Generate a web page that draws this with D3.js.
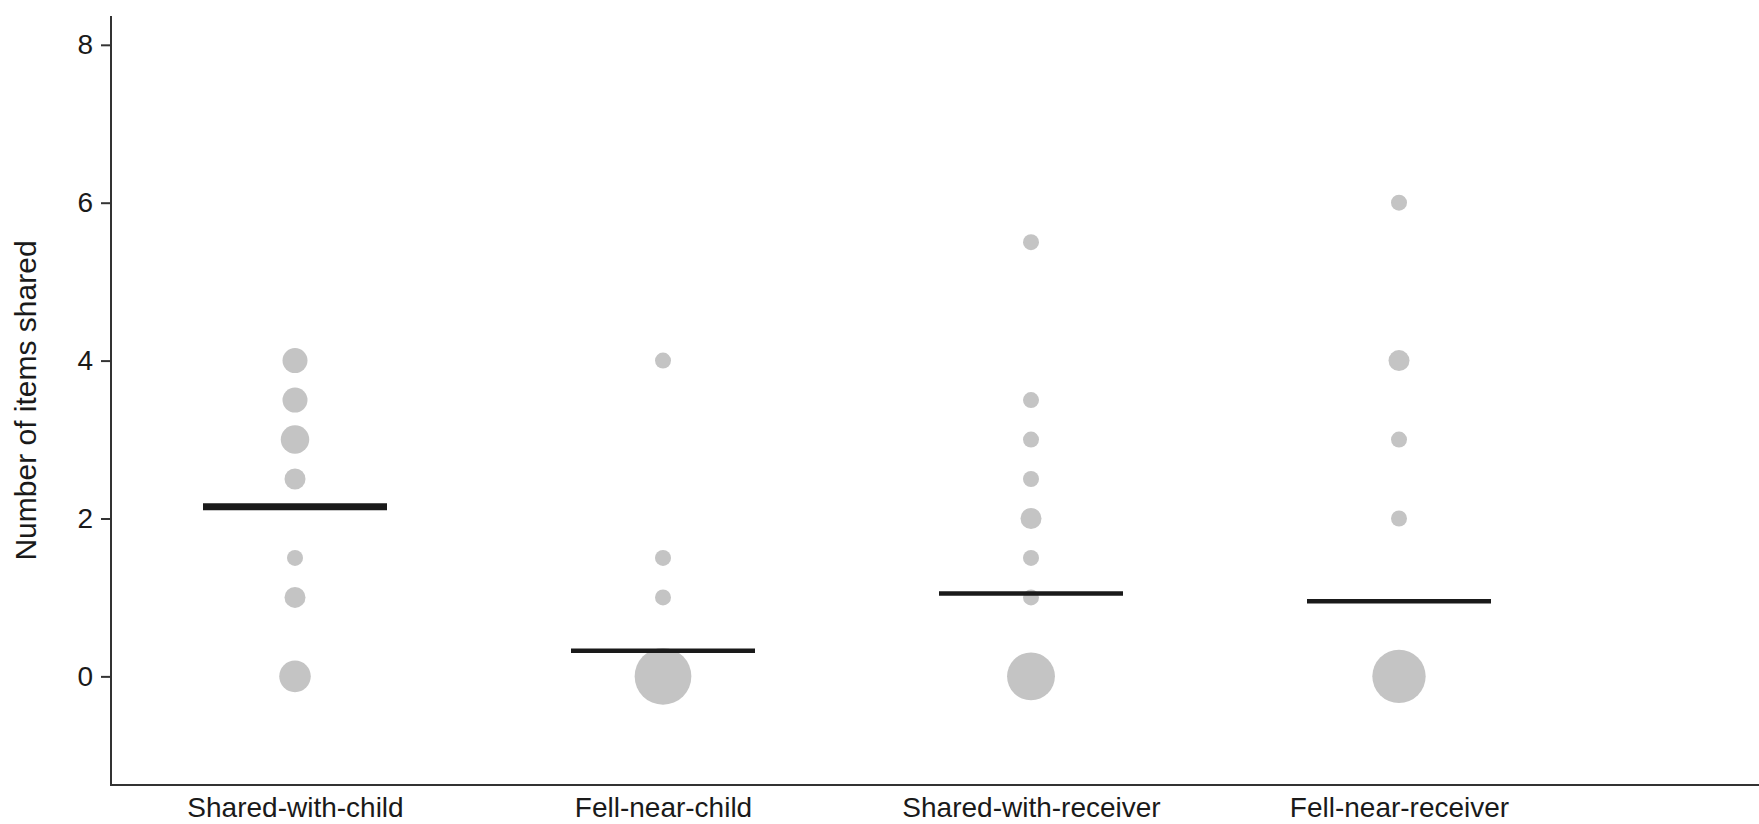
<!DOCTYPE html>
<html>
<head>
<meta charset="utf-8">
<script src="https://cdn.jsdelivr.net/npm/d3@7"></script>
<style>
  html, body { margin: 0; padding: 0; background: #ffffff; }
  svg { display: block; }
  text { font-family: "Liberation Sans", Arial, Helvetica, sans-serif; fill: #1a1a1a; }
</style>
</head>
<body>
<svg id="chart" width="1759" height="824"></svg>
<script>
// ---- data ----
const categories = ["Shared-with-child", "Fell-near-child", "Shared-with-receiver", "Fell-near-receiver"];

// distinct values per condition and how many children gave each value
const sharedWithChildValues = [4, 3.5, 3, 2.5, 1.5, 1, 0];
const sharedWithChildCounts = [3, 3, 4, 2, 1, 2, 5];

const fellNearChildValues = [4, 1.5, 1, 0];
const fellNearChildCounts = [1, 1, 1, 17];

const sharedWithReceiverValues = [5.5, 3.5, 3, 2.5, 2, 1.5, 1, 0];
const sharedWithReceiverCounts = [1, 1, 1, 1, 2, 1, 1, 12];

const fellNearReceiverValues = [6, 4, 3, 2, 0];
const fellNearReceiverCounts = [1, 2, 1, 1, 15];

// mean number of items shared per condition (horizontal bars)
const means = [2.15, 0.325, 1.05, 0.95];

const yTicks = [0, 2, 4, 6, 8];
const yTitle = "Number of items shared";

// ---- build point table ----
const valueLists = [sharedWithChildValues, fellNearChildValues, sharedWithReceiverValues, fellNearReceiverValues];
const countLists = [sharedWithChildCounts, fellNearChildCounts, sharedWithReceiverCounts, fellNearReceiverCounts];
const points = [];
categories.forEach((c, i) => {
  valueLists[i].forEach((v, j) => points.push({ cat: c, value: v, n: countLists[i][j] }));
});

// ---- layout ----
const svg = d3.select("#chart");
const W = 1759, H = 824;
const mLeft = 111, mBottom = 785, mTop = 16;

const x = d3.scalePoint().domain(categories).range([mLeft, mLeft + 1472]).padding(0.5);
const step = x.step();
const y = d3.scaleLinear().domain([-1.376, 8.365]).range([mBottom, mTop]);

// area-proportional dot size
const maxN = d3.max(points, d => d.n);
const area = d3.scaleLinear().domain([1, maxN]).range([64, 804]);
const r = n => Math.sqrt(area(n));

// dots
svg.append("g")
  .selectAll("circle")
  .data(points)
  .join("circle")
  .attr("cx", d => x(d.cat))
  .attr("cy", d => y(d.value))
  .attr("r", d => r(d.n))
  .attr("fill", "#c4c4c4");

// mean bars
svg.append("g")
  .selectAll("line")
  .data(means)
  .join("line")
  .attr("x1", (d, i) => x(categories[i]) - step / 4)
  .attr("x2", (d, i) => x(categories[i]) + step / 4)
  .attr("y1", d => y(d))
  .attr("y2", d => y(d))
  .attr("stroke", "#1a1a1a")
  .attr("stroke-width", (d, i) => i === 0 ? 7 : 4.5)
  .attr("stroke-linecap", "butt");

// y axis
const yAxis = svg.append("g")
  .attr("transform", `translate(${mLeft},0)`)
  .call(d3.axisLeft(y).tickValues(yTicks).tickSize(10).tickPadding(8).tickFormat(d3.format("d")));
yAxis.select(".domain").remove();
yAxis.selectAll(".tick line").attr("stroke", "#333").attr("stroke-width", 2);
yAxis.selectAll(".tick text").attr("font-size", 28).attr("fill", "#1a1a1a")
  .attr("font-family", "Liberation Sans, Arial, sans-serif");

// axis lines (L shape)
svg.append("line").attr("x1", mLeft).attr("x2", mLeft).attr("y1", mTop).attr("y2", mBottom + 1)
  .attr("stroke", "#333").attr("stroke-width", 2);
svg.append("line").attr("x1", mLeft - 1).attr("x2", W).attr("y1", mBottom).attr("y2", mBottom)
  .attr("stroke", "#333").attr("stroke-width", 2);

// x labels
const xAxis = svg.append("g")
  .attr("transform", `translate(0,${mBottom})`)
  .call(d3.axisBottom(x).tickSize(0).tickPadding(12));
xAxis.select(".domain").remove();
xAxis.selectAll(".tick text").attr("font-size", 28).attr("fill", "#1a1a1a")
  .attr("font-family", "Liberation Sans, Arial, sans-serif");

// y title
svg.append("text")
  .attr("transform", `translate(36,${(mTop + mBottom) / 2}) rotate(-90)`)
  .attr("text-anchor", "middle")
  .attr("font-size", 30)
  .text(yTitle);
</script>
</body>
</html>
